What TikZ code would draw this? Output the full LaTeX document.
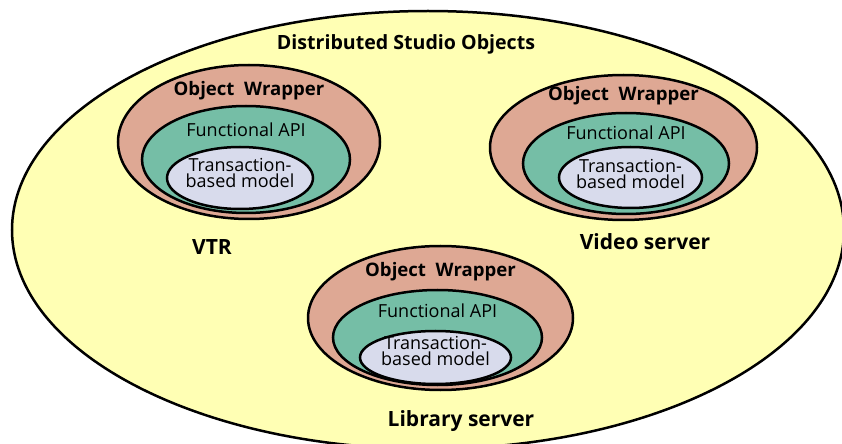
\documentclass[tikz,border=0pt]{standalone}
\usepackage{fontspec}
\setmainfont{Open Sans}
\usetikzlibrary{positioning, shapes.geometric}
\definecolor{studioyellow}{RGB}{255, 255, 180}
\definecolor{wrapsalmon}{RGB}{222, 168, 148}
\definecolor{apigreen}{RGB}{117, 190, 166}
\definecolor{txlavender}{RGB}{216, 219, 236}

\begin{document}
\begin{tikzpicture}[
    x=0.5pt, y=-0.5pt,
    ring/.style={draw, ellipse, line width=1.25pt, inner sep=0pt},
    world/.style={ring, fill=studioyellow},
    wrapper/.style={ring, fill=wrapsalmon},
    funcapi/.style={ring, fill=apigreen},
    txmodel/.style={ring, fill=txlavender},
    titletext/.style={inner sep=0pt, font=\fontsize{9.8}{11}\selectfont\bfseries},
    wraptext/.style={inner sep=0pt, font=\fontsize{9.3}{10}\selectfont\bfseries},
    apitext/.style={inner sep=0pt, font=\fontsize{9}{10}\selectfont},
    txtext/.style={inner sep=0pt, align=center, font=\fontsize{9}{8.2}\selectfont},
    hosttext/.style={inner sep=0pt, font=\fontsize{10.5}{12}\selectfont\bfseries},
]
    \useasboundingbox (0,0) rectangle (842,444);
    \clip (0,0) rectangle (842,444);

    % Outer world
    \node[world, minimum width=416pt, minimum height=219pt] (studio) at (428,230) {};
    \node[titletext, below=12pt of studio.north, xshift=-11pt] (title) {Distributed Studio Objects};

    % VTR
    \node[wrapper, minimum width=131pt, minimum height=77pt] (vtrwrap) at (249,142) {};
    \node[funcapi, minimum width=104pt, minimum height=53.5pt] (vtrapi) at (246,159.5) {};
    \node[txmodel, minimum width=73pt, minimum height=31pt] (vtrtx) at (240,178) {};
    \node[wraptext, below=8.5pt of vtrwrap.north] (vtrwraplbl) {Object~ Wrapper};
    \node[apitext, below=9pt of vtrapi.north] (vtrapilbl) {Functional API};
    \node[txtext, below=6pt of vtrtx.north] (vtrtxlbl) {Transaction-\\based model};
    \node[hosttext] (vtr) at (212,247) {VTR};

    % Video server
    \node[wrapper, minimum width=133.5pt, minimum height=72.5pt] (vidwrap) at (623.5,147.5) {};
    \node[funcapi, minimum width=103pt, minimum height=50.5pt] (vidapi) at (626,163.5) {};
    \node[txmodel, minimum width=71.5pt, minimum height=30.5pt] (vidtx) at (630.5,177.5) {};
    \node[wraptext, below=6pt of vidwrap.north] (vidwraplbl) {Object~ Wrapper};
    \node[apitext, below=7pt of vidapi.north] (vidapilbl) {Functional API};
    \node[txtext, below=6.5pt of vidtx.north] (vidtxlbl) {Transaction-\\based model};
    \node[hosttext] (video) at (645,241.5) {Video server};

    % Library server
    \node[wrapper, minimum width=132.5pt, minimum height=72pt] (libwrap) at (440.5,318) {};
    \node[funcapi, minimum width=104.5pt, minimum height=47.5pt] (libapi) at (437.5,337.5) {};
    \node[txmodel, minimum width=75.5pt, minimum height=26.5pt] (libtx) at (435.5,357.5) {};
    \node[wraptext, below=8.5pt of libwrap.north] (libwraplbl) {Object~ Wrapper};
    \node[apitext, below=7.5pt of libapi.north] (libapilbl) {Functional API};
    \node[txtext, below=3pt of libtx.north] (libtxlbl) {Transaction-\\based model};
    \node[hosttext] (library) at (461,421) {Library server};
\end{tikzpicture}
\end{document}
